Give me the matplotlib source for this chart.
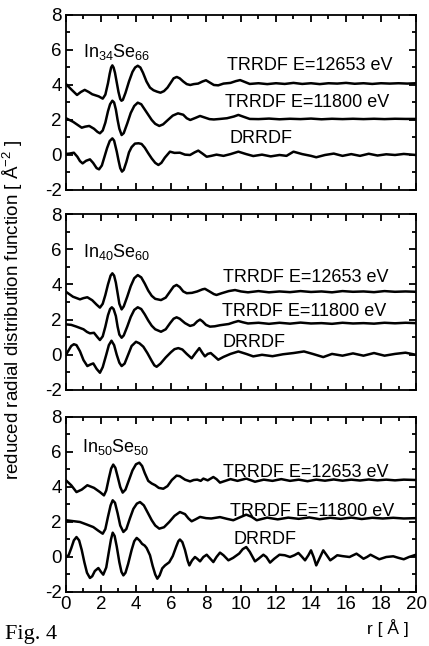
import numpy as np
import matplotlib.pyplot as plt
from matplotlib.ticker import MultipleLocator

plt.rcParams['font.family'] = ['Liberation Sans', 'DejaVu Sans']
plt.rcParams['mathtext.fontset'] = 'custom'
plt.rcParams['mathtext.rm'] = 'Liberation Sans'
plt.rcParams['mathtext.it'] = 'Liberation Sans'
plt.rcParams['axes.unicode_minus'] = False

##### In34Se66 #####
r_a1 = [0, 0.3, 0.63, 0.85, 1.07, 1.3, 1.5, 1.87, 2.1, 2.25, 2.4, 2.5, 2.58, 2.65, 2.72,
        2.8, 2.9, 3.0, 3.1, 3.17, 3.25, 3.4, 3.6, 3.8, 3.95, 4.1, 4.25, 4.4, 4.6, 4.8,
        5.0, 5.2, 5.4, 5.6, 5.8, 6.0, 6.15, 6.33, 6.5, 6.7, 6.9, 7.1, 7.3, 7.55, 7.8, 8.0,
        8.2, 8.45, 8.7, 9.0, 9.4, 9.7, 9.95, 10.2, 10.5, 11.0, 11.5, 12.0, 12.5, 13.0,
        13.5, 14.0, 14.5, 15.0, 15.5, 16.0, 16.5, 17.0, 17.5, 18.0, 18.5, 19.0, 19.5, 20]
v_a1 = [4.05, 3.75, 3.43, 3.6, 3.72, 3.6, 3.47, 3.35, 3.22, 3.45, 4.1, 4.65, 5.0, 5.12,
        5.0, 4.7, 4.15, 3.6, 3.2, 3.1, 3.15, 3.55, 4.2, 4.75, 5.0, 5.1, 5.0, 4.7, 4.2,
        3.85, 3.7, 3.62, 3.56, 3.65, 3.85, 4.15, 4.38, 4.46, 4.38, 4.2, 4.05, 4.0, 4.05,
        4.08, 4.2, 4.27, 4.15, 4.0, 3.98, 4.08, 4.12, 4.22, 4.28, 4.18, 4.06, 4.1, 4.05,
        4.1, 4.06, 4.12, 4.06, 4.1, 4.05, 4.1, 4.08, 4.12, 4.07, 4.1, 4.06, 4.1, 4.08,
        4.1, 4.08, 4.1]

r_b1 = [0, 0.4, 0.9, 1.1, 1.33, 1.6, 1.8, 1.94, 2.1, 2.25, 2.4, 2.52, 2.65, 2.75, 2.85,
        2.95, 3.05, 3.18, 3.3, 3.5, 3.7, 3.9, 4.1, 4.3, 4.5, 4.7, 4.9, 5.1, 5.33, 5.55,
        5.8, 6.1, 6.4, 6.7, 6.9, 7.1, 7.4, 7.66, 7.9, 8.2, 8.45, 8.8, 9.2, 9.6, 9.85,
        10.1, 10.5, 11.0, 11.6, 12.2, 12.8, 13.4, 14.0, 14.6, 15.2, 15.8, 16.4, 17.0,
        17.6, 18.2, 18.8, 19.4, 20]
v_b1 = [2.1, 1.9, 1.56, 1.62, 1.66, 1.5, 1.32, 1.24, 1.4, 1.85, 2.5, 2.9, 3.1, 3.0, 2.6,
        2.0, 1.5, 1.14, 1.25, 1.8, 2.4, 2.8, 2.99, 2.9, 2.6, 2.3, 2.0, 1.78, 1.66, 1.75,
        1.98, 2.25, 2.38, 2.3, 2.1, 2.0, 2.12, 2.23, 2.15, 2.05, 2.03, 2.06, 2.1, 2.2,
        2.29, 2.2, 2.06, 2.05, 2.08, 2.04, 2.07, 2.05, 2.08, 2.04, 2.07, 2.05, 2.07, 2.05,
        2.07, 2.05, 2.07, 2.06, 2.06]

r_c1 = [0, 0.2, 0.45, 0.65, 0.8, 0.95, 1.15, 1.37, 1.55, 1.75, 1.89, 2.05, 2.2, 2.35,
        2.5, 2.65, 2.75, 2.9, 3.0, 3.1, 3.2, 3.3, 3.45, 3.6, 3.75, 3.94, 4.15, 4.32, 4.5,
        4.7, 4.9, 5.1, 5.28, 5.45, 5.65, 5.94, 6.2, 6.51, 6.8, 7.09, 7.35, 7.56, 7.8, 8.04,
        8.3, 8.6, 9.0, 9.4, 9.85, 10.3, 10.7, 11.2, 11.7, 12.2, 12.6, 13.0, 13.5, 14.0,
        14.3, 14.8, 15.3, 15.8, 16.3, 16.8, 17.3, 17.8, 18.3, 18.8, 19.3, 20]
v_c1 = [0.06, 0.08, 0.13, -0.1, -0.35, -0.48, -0.33, -0.25, -0.45, -0.75, -0.82, -0.6,
        -0.1, 0.4, 0.8, 0.95, 0.82, 0.2, -0.3, -0.75, -0.95, -0.85, -0.4, 0.15, 0.45, 0.65,
        0.67, 0.63, 0.42, 0.1, -0.2, -0.45, -0.57, -0.45, -0.15, 0.19, 0.12, 0.13, 0.02,
        0.0, 0.15, 0.25, 0.08, -0.1, -0.05, 0.02, -0.05, 0.05, 0.19, 0.05, -0.06, 0.02,
        -0.08, 0.0, -0.05, 0.19, 0.05, -0.05, -0.13, 0.0, 0.08, -0.05, 0.05, -0.05, 0.07,
        -0.03, 0.04, 0.0, 0.06, 0.0]

##### In40Se60 #####
r_a2 = [0, 0.4, 0.8, 1.0, 1.22, 1.5, 1.75, 1.94, 2.1, 2.25, 2.4, 2.55, 2.65, 2.75, 2.85,
        2.95, 3.05, 3.18, 3.3, 3.5, 3.7, 3.9, 4.1, 4.3, 4.5, 4.7, 4.9, 5.1, 5.43, 5.7,
        5.95, 6.15, 6.32, 6.5, 6.7, 6.9, 7.2, 7.5, 7.8, 7.94, 8.2, 8.45, 8.6, 8.9, 9.3,
        9.66, 10.0, 10.4, 11.0, 11.6, 12.2, 12.8, 13.4, 14.0, 14.6, 15.2, 15.8, 16.4,
        17.0, 17.6, 18.2, 18.8, 19.4, 20]
v_a2 = [3.58, 3.3, 3.15, 3.22, 3.27, 3.1, 2.85, 2.68, 2.9, 3.4, 4.0, 4.5, 4.63, 4.5, 4.1,
        3.5, 2.9, 2.58, 2.75, 3.3, 3.9, 4.35, 4.53, 4.4, 4.05, 3.65, 3.35, 3.18, 3.11,
        3.25, 3.6, 3.88, 3.97, 3.85, 3.6, 3.5, 3.52, 3.6, 3.72, 3.75, 3.6, 3.45, 3.4, 3.5,
        3.62, 3.68, 3.6, 3.55, 3.62, 3.55, 3.6, 3.56, 3.62, 3.57, 3.6, 3.55, 3.62, 3.58,
        3.6, 3.56, 3.62, 3.58, 3.6, 3.58]

r_b2 = [0, 0.3, 0.6, 1.0, 1.2, 1.37, 1.6, 1.8, 1.94, 2.1, 2.25, 2.4, 2.52, 2.62, 2.72,
        2.85, 2.95, 3.05, 3.18, 3.3, 3.5, 3.7, 3.9, 4.1, 4.3, 4.5, 4.7, 4.9, 5.1, 5.43,
        5.7, 5.95, 6.15, 6.32, 6.5, 6.8, 7.09, 7.3, 7.5, 7.66, 7.8, 8.0, 8.23, 8.5, 8.8,
        9.3, 9.6, 9.85, 10.1, 10.4, 11.0, 11.6, 12.2, 12.8, 13.4, 14.0, 14.6, 15.2, 15.8,
        16.4, 17.0, 17.6, 18.2, 18.8, 19.4, 20]
v_b2 = [1.73, 1.7, 1.6, 1.45, 1.3, 1.22, 1.25, 1.0, 0.84, 1.05, 1.6, 2.25, 2.6, 2.7, 2.6,
        2.2, 1.6, 1.15, 0.97, 1.1, 1.6, 2.15, 2.55, 2.7, 2.6, 2.3, 1.95, 1.65, 1.45, 1.31,
        1.45, 1.8, 2.05, 2.13, 2.05, 1.8, 1.64, 1.7, 1.9, 2.0, 1.9, 1.7, 1.6, 1.62, 1.68,
        1.75, 1.85, 1.92, 1.85, 1.78, 1.82, 1.76, 1.82, 1.77, 1.83, 1.78, 1.8, 1.76, 1.82,
        1.78, 1.8, 1.77, 1.82, 1.79, 1.82, 1.8]

r_c2 = [0, 0.15, 0.3, 0.45, 0.6, 0.8, 1.0, 1.22, 1.4, 1.56, 1.75, 1.94, 2.1, 2.3, 2.45,
        2.6, 2.75, 2.9, 3.05, 3.18, 3.35, 3.55, 3.75, 4.0, 4.2, 4.42, 4.65, 4.9, 5.05,
        5.18, 5.4, 5.7, 6.0, 6.2, 6.42, 6.65, 6.9, 7.18, 7.4, 7.62, 7.8, 7.94, 8.1, 8.27,
        8.5, 8.7, 9.0, 9.4, 9.85, 10.3, 10.7, 11.2, 11.8, 12.4, 13.0, 13.6, 14.1, 14.7,
        15.2, 15.8, 16.4, 17.0, 17.6, 18.2, 18.8, 19.4, 20]
v_c2 = [0.0, 0.25, 0.5, 0.6, 0.55, 0.2, -0.3, -0.64, -0.55, -0.49, -0.8, -1.02, -0.7,
        0.0, 0.55, 0.8, 0.55, 0.0, -0.45, -0.64, -0.5, 0.0, 0.5, 0.74, 0.65, 0.46, 0.1,
        -0.35, -0.6, -0.68, -0.5, -0.15, 0.15, 0.32, 0.38, 0.3, 0.05, -0.2, 0.1, 0.38, 0.1,
        -0.09, 0.05, 0.1, -0.1, -0.28, -0.12, 0.05, 0.19, 0.05, -0.09, 0.0, -0.08, 0.03,
        0.1, 0.19, 0.05, -0.13, 0.05, -0.05, 0.08, -0.05, 0.1, -0.05, 0.05, 0.12, 0.0]

##### In50Se50 #####
r_a3 = [0, 0.3, 0.6, 0.9, 1.22, 1.6, 1.94, 2.17, 2.3, 2.45, 2.58, 2.7, 2.82, 2.95, 3.1,
        3.24, 3.4, 3.6, 3.8, 4.0, 4.19, 4.35, 4.5, 4.7, 4.9, 5.1, 5.3, 5.56, 5.8, 6.05,
        6.32, 6.5, 6.8, 7.09, 7.3, 7.5, 7.7, 7.85, 8.1, 8.42, 8.6, 8.8, 9.1, 9.4, 9.8,
        10.3, 10.8, 11.3, 11.8, 12.3, 12.8, 13.3, 13.8, 14.3, 14.8, 15.3, 15.8, 16.3, 16.8,
        17.3, 17.8, 18.3, 18.8, 19.3, 20]
v_a3 = [4.38, 4.1, 3.71, 3.85, 4.1, 3.95, 3.71, 3.52, 3.8, 4.5, 5.05, 5.28, 5.1, 4.6,
        4.0, 3.68, 3.85, 4.4, 4.95, 5.3, 5.39, 5.2, 4.8, 4.35, 4.2, 4.1, 3.95, 3.9, 4.05,
        4.4, 4.65, 4.62, 4.42, 4.32, 4.4, 4.42, 4.35, 4.48, 4.38, 4.57, 4.45, 4.25, 4.35,
        4.45, 4.35, 4.48, 4.3, 4.42, 4.35, 4.45, 4.35, 4.42, 4.33, 4.42, 4.36, 4.43, 4.36,
        4.42, 4.37, 4.43, 4.38, 4.42, 4.38, 4.42, 4.4]

r_b3 = [0, 0.4, 0.8, 1.2, 1.56, 1.85, 2.1, 2.25, 2.4, 2.55, 2.67, 2.8, 2.95, 3.1, 3.28,
        3.45, 3.65, 3.85, 4.05, 4.23, 4.45, 4.7, 4.9, 5.1, 5.33, 5.6, 5.9, 6.2, 6.51, 6.8,
        7.0, 7.18, 7.4, 7.66, 8.0, 8.3, 8.8, 9.2, 9.56, 9.9, 10.3, 10.6, 10.9, 11.5, 12.1,
        12.7, 13.3, 13.9, 14.5, 15.1, 15.7, 16.3, 16.9, 17.5, 18.1, 18.7, 19.3, 20]
v_b3 = [2.1, 2.05, 2.0, 1.85, 1.71, 1.5, 1.33, 1.6, 2.3, 2.95, 3.24, 3.1, 2.5, 1.8, 1.43,
        1.6, 2.2, 2.75, 3.05, 3.14, 2.95, 2.48, 2.1, 1.8, 1.62, 1.7, 2.0, 2.35, 2.57, 2.45,
        2.2, 2.04, 2.15, 2.29, 2.22, 2.2, 2.28, 2.18, 2.1, 2.25, 2.42, 2.3, 2.1, 2.25,
        2.15, 2.25, 2.18, 2.26, 2.16, 2.24, 2.18, 2.25, 2.17, 2.24, 2.2, 2.24, 2.2, 2.22]

r_c3 = [0, 0.15, 0.3, 0.45, 0.6, 0.75, 0.9, 1.05, 1.2, 1.37, 1.5, 1.65, 1.85, 2.0, 2.13,
        2.3, 2.45, 2.57, 2.67, 2.78, 2.9, 3.05, 3.17, 3.28, 3.4, 3.55, 3.75, 3.9, 4.04,
        4.2, 4.35, 4.5, 4.61, 4.8, 4.95, 5.1, 5.22, 5.35, 5.5, 5.66, 5.9, 6.1, 6.3, 6.42,
        6.51, 6.65, 6.8, 6.95, 7.05, 7.2, 7.37, 7.5, 7.66, 7.85, 8.04, 8.25, 8.42, 8.6,
        8.8, 9.0, 9.28, 9.55, 9.9, 10.1, 10.3, 10.5, 10.8, 11.0, 11.28, 11.45, 11.66,
        11.9, 12.2, 12.5, 12.8, 13.05, 13.28, 13.45, 13.66, 13.85, 14.0, 14.15, 14.3,
        14.5, 14.7, 14.9, 15.1, 15.3, 15.5, 15.8, 16.2, 16.6, 16.8, 17.0, 17.2, 17.4,
        17.65, 17.9, 18.3, 18.7, 19.0, 19.3, 19.6, 20]
v_c3 = [0.0, 0.1, 0.5, 0.95, 1.14, 0.95, 0.4, -0.3, -0.9, -1.2, -1.1, -0.8, -0.63,
        -0.85, -1.01, -0.6, 0.3, 1.0, 1.39, 1.2, 0.6, -0.3, -0.85, -1.05, -0.9, -0.4, 0.4,
        0.9, 1.09, 0.95, 0.75, 0.65, 0.51, 0.1, -0.5, -1.0, -1.24, -1.05, -0.65, -0.48,
        -0.3, 0.05, 0.6, 0.9, 1.0, 0.85, 0.4, -0.2, -0.48, -0.2, 0.0, -0.1, -0.25, 0.0,
        0.13, -0.1, -0.29, 0.0, 0.25, 0.1, -0.19, -0.05, 0.2, 0.45, 0.57, 0.3, -0.25,
        -0.1, 0.13, 0.0, -0.32, -0.1, 0.13, 0.1, 0.0, 0.1, 0.23, 0.05, -0.19, 0.1, 0.38,
        0.0, -0.48, -0.05, 0.38, 0.1, -0.19, -0.05, 0.1, 0.05, 0.0, 0.19, 0.05, -0.1, 0.0,
        0.13, 0.0, -0.13, 0.0, 0.04, -0.05, -0.13, 0.0, 0.13]

panels = [
    (r'In$_{34}$Se$_{66}$', (r_a1, v_a1), (r_b1, v_b1), (r_c1, v_c1)),
    (r'In$_{40}$Se$_{60}$', (r_a2, v_a2), (r_b2, v_b2), (r_c2, v_c2)),
    (r'In$_{50}$Se$_{50}$', (r_a3, v_a3), (r_b3, v_b3), (r_c3, v_c3)),
]

# label positions (r, value) for text in each panel
name_pos = [(1.0, 5.58), (1.0, 5.58), (0.9, 6.0)]
lab_pos = [
    [(9.18, 4.86), (9.09, 2.72), (9.37, 0.70)],
    [(8.95, 4.16), (8.9, 2.2), (8.95, 0.46)],
    [(8.95, 4.57), (9.37, 2.32), (9.56, 0.76)],
]
labels = ['TRRDF E=12653 eV', 'TRRDF E=11800 eV', 'DRRDF']

fig = plt.figure(figsize=(4.29, 6.46), dpi=100)
boxes = [(0.7059, 0.2709), (0.3963, 0.2724), (0.0836, 0.2709)]

for i, (name, ca, cb, cc) in enumerate(panels):
    ax = fig.add_axes([0.1538, boxes[i][0], 0.8159, boxes[i][1]])
    for r, v in (ca, cb, cc):
        ax.plot(r, v, color='black', lw=1.8, solid_joinstyle='round')
    ax.set_xlim(0, 20)
    ax.set_ylim(-2, 8)
    ax.xaxis.set_major_locator(MultipleLocator(2))
    ax.xaxis.set_minor_locator(MultipleLocator(1))
    ax.yaxis.set_major_locator(MultipleLocator(2))
    ax.yaxis.set_minor_locator(MultipleLocator(1))
    ax.tick_params(which='both', direction='in', top=True, right=True, width=1.3,
                   labelsize=13.5, pad=3)
    ax.tick_params(which='major', length=5)
    ax.tick_params(which='minor', length=3)
    for s in ax.spines.values():
        s.set_linewidth(1.3)
    if i < 2:
        ax.set_xticklabels([])
    ax.text(name_pos[i][0], name_pos[i][1], name, fontsize=13)
    for (x, y), t in zip(lab_pos[i], labels):
        ax.text(x, y, t, fontsize=13)

fig.text(0.03, 0.52, 'reduced radial distribution function [ Å$^{-2}$ ]',
         rotation=90, ha='center', va='center', fontsize=13.5)
fig.text(0.905, 0.028, 'r [ Å ]', ha='center', va='center', fontsize=12.5)
fig.text(0.012, 0.003, 'Fig. 4', family=['Liberation Serif', 'DejaVu Serif'],
         fontsize=16, ha='left', va='bottom')

fig.savefig('out.png', dpi=100)
